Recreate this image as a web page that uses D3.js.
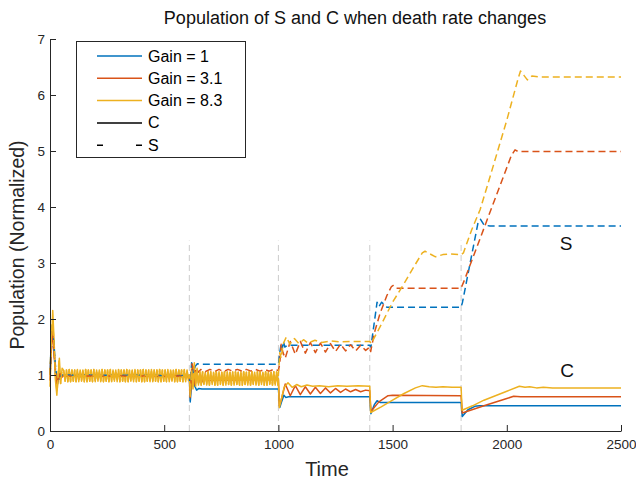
<!DOCTYPE html>
<html><head><meta charset="utf-8">
<script src="https://cdn.jsdelivr.net/npm/d3@7"></script>
<style>body{margin:0;background:#fff} svg{display:block}</style>
</head><body><svg id="c" width="636" height="485"></svg>
<script>
// ---------------- DATA ----------------
const xTicks = [0, 500, 1000, 1500, 2000, 2500];
const yTicks = [0, 1, 2, 3, 4, 5, 6, 7];
const changeTimes = [610, 1000, 1400, 1800];
const seriesNames = ["Gain = 1", "Gain = 3.1", "Gain = 8.3"];
const typeNames = ["C", "S"];

const blueC = [[0,1.0],[4,1.45],[9,1.88],[14,1.7],[20,1.3],[27,0.9],[33,0.84],[40,1.02],[48,0.96],[56,1.0],
 [610,0.98],[614,0.52],[620,0.85],[627,0.95],[634,0.8],[642,0.73],[652,0.76],[665,0.75],[1000,0.75],
 [1006,0.42],[1014,0.52],[1024,0.64],[1032,0.6],[1045,0.61],[1400,0.61],
 [1405,0.31],[1420,0.47],[1432,0.54],[1445,0.51],[1800,0.51],
 [1805,0.26],[1830,0.38],[1860,0.44],[1880,0.45],[2500,0.45]];

const blueS = [[0,1.0],[5,1.4],[10,1.72],[16,1.6],[23,1.2],[30,0.95],[38,0.9],[48,1.0],
 [610,0.99],[614,0.78],[620,1.22],[627,1.02],[635,1.15],[645,1.2],[660,1.19],[1000,1.19],
 [1006,1.4],[1012,1.56],[1017,1.47],[1022,1.6],[1028,1.5],[1040,1.53],[1400,1.53],
 [1405,1.5],[1432,2.3],[1440,2.22],[1452,2.3],[1475,2.21],[1800,2.21],
 [1806,2.3],[1875,3.74],[1885,3.78],[1900,3.68],[1926,3.66],[2500,3.66]];

const redC = [[0,0.9],[5,1.5],[10,1.78],[16,1.5],[24,1.0],[31,0.8],[40,1.06],[50,0.95],[60,0.99],
 [610,0.97],[614,0.6],[620,1.0],[627,1.15],[635,0.82],[643,1.05],[651,0.86],[659,1.0],[667,0.88],[675,0.96],[690,0.9],[1000,0.92],
 [1004,0.45],[1012,0.55],[1030,0.84],[1052,0.63],[1074,0.81],[1096,0.65],[1118,0.79],[1140,0.66],[1162,0.78],
 [1184,0.67],[1206,0.77],[1228,0.68],[1250,0.76],[1272,0.69],[1294,0.75],[1316,0.7],[1338,0.74],[1360,0.7],[1382,0.73],[1400,0.72],
 [1405,0.35],[1440,0.52],[1480,0.63],[1500,0.64],[1800,0.63],
 [1805,0.32],[1900,0.45],[2000,0.58],[2030,0.62],[2060,0.61],[2500,0.61]];

const redS = [[0,1.0],[6,1.45],[12,1.7],[18,1.4],[26,1.0],[34,0.88],[44,1.02],[55,0.98],
 [610,0.98],[615,0.72],[622,1.2],[630,1.0],[640,1.12],[650,1.05],[660,1.1],[680,1.06],[700,1.1],[720,1.06],[740,1.1],
 [760,1.06],[780,1.1],[800,1.07],[820,1.1],[840,1.07],[860,1.1],[880,1.07],[900,1.1],[920,1.07],[940,1.1],[960,1.07],[980,1.1],[1000,1.08],
 [1006,1.2],[1012,1.55],[1020,1.4],[1030,1.3],[1052,1.6],[1074,1.37],[1096,1.6],[1118,1.39],[1140,1.58],[1162,1.4],
 [1184,1.57],[1206,1.41],[1228,1.56],[1250,1.42],[1272,1.55],[1294,1.43],[1316,1.54],[1338,1.43],[1360,1.53],[1382,1.44],[1400,1.5],
 [1404,1.42],[1420,1.75],[1445,2.1],[1475,2.42],[1495,2.58],[1503,2.6],[1515,2.55],[1800,2.55],
 [1815,2.7],[2020,4.92],[2036,5.02],[2050,4.99],[2500,4.99]];

// yellow (Gain = 8.3): fast oscillation sampled every half period
const yellowOscStep = 6;
const yellowOsc1Start = 60;
const yellowOsc1 = [1.08,0.89,1.09,0.88,1.1,0.88,1.09,0.89,1.09,0.88,1.1,0.88,1.09,0.89,1.09,0.88,1.1,0.88,1.09,0.89,
 1.09,0.88,1.1,0.88,1.09,0.89,1.09,0.88,1.1,0.88,1.09,0.89,1.09,0.88,1.1,0.88,1.09,0.89,1.09,0.88,
 1.1,0.88,1.09,0.89,1.09,0.88,1.1,0.88,1.09,0.89,1.09,0.88,1.1,0.88,1.09,0.89,1.09,0.88,1.1,0.88,
 1.09,0.89,1.09,0.88,1.1,0.88,1.09,0.89,1.09,0.88,1.1,0.88,1.09,0.89,1.09,0.88,1.1,0.88,1.09,0.89,
 1.09,0.88,1.1,0.88,1.09,0.89,1.09,0.88,1.1,0.88,1.09,0.9];
const yellowOsc2Start = 650;
const yellowOsc2 = [0.82,1.06,0.82,1.06,0.83,1.05,0.82,1.06,0.82,1.06,0.83,1.05,0.82,1.06,0.82,1.06,0.83,1.05,0.82,1.06,
 0.82,1.06,0.83,1.05,0.82,1.06,0.82,1.06,0.83,1.05,0.82,1.06,0.82,1.06,0.83,1.05,0.82,1.06,0.82,1.06,
 0.83,1.05,0.82,1.06,0.82,1.06,0.83,1.05,0.82,1.06,0.82,1.06,0.83,1.05,0.82,1.06,0.82,1.06,0.82];

const yellowC_a = [[0,0.79],[6,1.5],[12,2.15],[18,1.6],[24,0.9],[30,0.64],[36,1.0],[41,1.3],[47,0.85],[53,1.12]];
const yellowC_b = [[610,1.0],[614,0.62],[620,1.15],[626,0.75],[632,1.22],[638,0.8],[644,1.12]];
const yellowC_c = [[1000,0.94],[1004,0.42],[1012,0.55],[1025,0.78],[1042,0.86],[1060,0.78],[1080,0.83],[1100,0.79],[1125,0.82],
 [1150,0.8],[1180,0.81],[1220,0.79],[1260,0.81],[1300,0.8],[1350,0.81],[1400,0.8],
 [1404,0.33],[1450,0.43],[1500,0.55],[1550,0.67],[1600,0.77],[1630,0.81],[1660,0.79],[1690,0.78],[1720,0.79],[1760,0.78],[1800,0.78],
 [1804,0.37],[1850,0.45],[1900,0.55],[1950,0.63],[2000,0.71],[2055,0.8],[2080,0.78],[2100,0.79],[2130,0.77],[2160,0.78],[2200,0.77],[2500,0.77]];

const yellowS_a = [[0,1.0],[5,1.6],[11,2.0],[17,1.6],[25,0.9],[31,0.7],[39,1.25],[46,0.85],[53,1.1]];
const yellowS_b = [[610,1.0],[614,0.7],[620,1.1],[626,0.8],[632,1.18],[638,0.85],[644,1.1]];
const yellowS_c = [[1000,1.0],[1006,1.4],[1012,1.3],[1020,1.55],[1035,1.68],[1050,1.55],[1070,1.65],[1090,1.56],[1110,1.63],
 [1130,1.57],[1160,1.62],[1190,1.58],[1230,1.61],[1270,1.59],[1320,1.6],[1400,1.6],
 [1406,1.56],[1450,1.9],[1500,2.3],[1550,2.63],[1600,2.98],[1630,3.18],[1642,3.21],[1660,3.17],[1688,3.11],[1720,3.15],[1750,3.16],[1800,3.15],
 [1810,3.18],[1846,3.59],[1883,3.95],[1920,4.45],[2000,5.55],[2050,6.3],[2060,6.43],[2075,6.35],[2090,6.27],[2110,6.34],[2150,6.32],[2500,6.32]];

const colors = ["#0072BD", "#D95319", "#EDB120"];

// ---------------- BUILD ----------------
const osc = (vals, start) => vals.map((v, i) => [start + i * yellowOscStep, v]);
const yellowC = [...yellowC_a, ...osc(yellowOsc1, yellowOsc1Start), ...yellowC_b, ...osc(yellowOsc2, yellowOsc2Start), ...yellowC_c];
const yellowS = [...yellowS_a, ...osc(yellowOsc1, yellowOsc1Start), ...yellowS_b, ...osc(yellowOsc2, yellowOsc2Start), ...yellowS_c];

const font = "'Liberation Sans', Arial, Helvetica, sans-serif";
const svg = d3.select("#c");
const L = 50, R = 621, T = 39, B = 431;
const x = d3.scaleLinear().domain([0, 2500]).range([L, R]);
const y = d3.scaleLinear().domain([0, 7]).range([B, T]);

// change-time guide lines
svg.append("g").selectAll("line").data(changeTimes).join("line")
  .attr("x1", d => x(d)).attr("x2", d => x(d))
  .attr("y1", y(0)).attr("y2", y(3.4))
  .attr("stroke", "#cccccc").attr("stroke-width", 1).attr("stroke-dasharray", "6,4");

const line = d3.line().x(d => x(d[0])).y(d => y(d[1]));
const plotData = [
  {d: blueC, c: colors[0], dash: null},
  {d: redC, c: colors[1], dash: null},
  {d: yellowC, c: colors[2], dash: null},
  {d: blueS, c: colors[0], dash: "7,4"},
  {d: redS, c: colors[1], dash: "7,4"},
  {d: yellowS, c: colors[2], dash: "7,4"}
];
svg.append("g").selectAll("path").data(plotData).join("path")
  .attr("d", p => line(p.d)).attr("fill", "none")
  .attr("stroke", p => p.c).attr("stroke-width", 1.5)
  .attr("stroke-linejoin", "round")
  .attr("stroke-dasharray", p => p.dash);

// axes
const axColor = "#262626";
const gx = svg.append("g").attr("transform", `translate(0,${B})`)
  .call(d3.axisBottom(x).tickValues(xTicks).tickFormat(d3.format("d")).tickSizeInner(-6).tickSizeOuter(0).tickPadding(8));
const gy = svg.append("g").attr("transform", `translate(${L},0)`)
  .call(d3.axisLeft(y).tickValues(yTicks).tickFormat(d3.format("d")).tickSizeInner(-6).tickSizeOuter(0).tickPadding(5));
[gx, gy].forEach(g => {
  g.select(".domain").attr("stroke", axColor).attr("stroke-width", 1);
  g.selectAll(".tick line").attr("stroke", axColor).attr("stroke-width", 1);
  g.selectAll(".tick text").attr("fill", axColor).style("font-family", font).style("font-size", "13.5px");
});

// titles
svg.append("text").attr("x", 355).attr("y", 24).attr("text-anchor", "middle")
  .style("font-family", font).style("font-size", "18px").attr("fill", "#111")
  .text("Population of S and C when death rate changes");
svg.append("text").attr("x", 327).attr("y", 476).attr("text-anchor", "middle")
  .style("font-family", font).style("font-size", "20px").attr("fill", axColor).text("Time");
svg.append("text").attr("transform", `translate(24,${(T + B) / 2 + 10}) rotate(-90)`).attr("text-anchor", "middle")
  .style("font-family", font).style("font-size", "19.5px").attr("fill", axColor).text("Population (Normalized)");

// annotations
svg.append("text").attr("x", 566).attr("y", 250).attr("text-anchor", "middle")
  .style("font-family", font).style("font-size", "19px").attr("fill", "#111").text(typeNames[1]);
svg.append("text").attr("x", 567).attr("y", 377).attr("text-anchor", "middle")
  .style("font-family", font).style("font-size", "19px").attr("fill", "#111").text(typeNames[0]);

// legend
const lg = svg.append("g");
lg.append("rect").attr("x", 76.5).attr("y", 41.5).attr("width", 169).attr("height", 116)
  .attr("fill", "#fff").attr("stroke", axColor).attr("stroke-width", 1);
const legendItems = [
  {t: seriesNames[0], c: colors[0], dash: null},
  {t: seriesNames[1], c: colors[1], dash: null},
  {t: seriesNames[2], c: colors[2], dash: null},
  {t: typeNames[0], c: "#000", dash: null},
  {t: typeNames[1], c: "#000", dash: "6,33"}
];
legendItems.forEach((it, i) => {
  const yy = 56 + i * 22.3;
  lg.append("line").attr("x1", 97).attr("x2", 142).attr("y1", yy).attr("y2", yy)
    .attr("stroke", it.c).attr("stroke-width", 1.5).attr("stroke-dasharray", it.dash);
  lg.append("text").attr("x", 148).attr("y", yy + 5.5)
    .style("font-family", font).style("font-size", "16px").attr("fill", "#000").text(it.t);
});
</script></body></html>
